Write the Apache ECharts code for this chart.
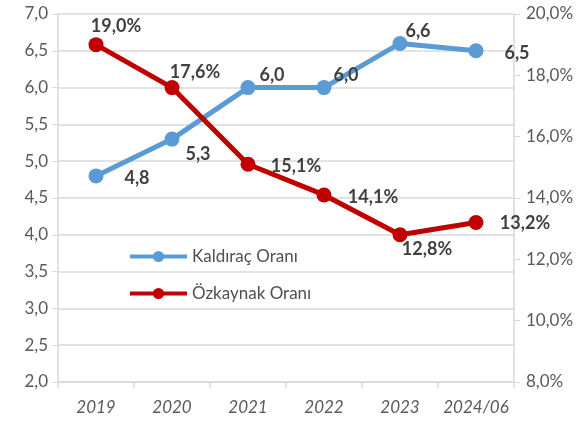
<!DOCTYPE html>
<html><head><meta charset="utf-8">
<script src="https://cdn.jsdelivr.net/npm/echarts@6/dist/echarts.min.js"></script>
<style>html,body{margin:0;padding:0;background:#fff}#c{width:588px;height:421px}</style>
</head><body><div id="c"></div>
<script>
const categories = ['2019','2020','2021','2022','2023','2024/06'];
const kaldirac = [4.8, 5.3, 6.0, 6.0, 6.6, 6.5];
const ozkaynak = [19.0, 17.6, 15.1, 14.1, 12.8, 13.2];
const seriesNames = ['Kaldıraç Oranı', 'Özkaynak Oranı'];

const FONT = 'Lato';
const fmt1 = v => v.toFixed(1).replace('.', ',');
const labStyle = {fontFamily: FONT, fontWeight: 'bold', fontSize: 18, color: '#404040', position: 'inside'};

// label offsets relative to the point centre
const kOff = [[41, 2], [26, 15], [24, -12], [22, -12], [18, -12], [41, 2]];
const oOff = [[20, -18], [23, -15], [48, 2], [49, 2], [27, 14], [49, 1]];

const chart = echarts.init(document.getElementById('c'));
chart.setOption({
  animation: false,
  grid: {left: 58, right: 74, top: 14, bottom: 39},
  legend: {
    orient: 'vertical', left: 123, top: 243, itemWidth: 57, itemHeight: 14, itemGap: 20,
    lineStyle: {width: 4},
    textStyle: {fontFamily: FONT, fontSize: 17, color: '#505050'},
    data: seriesNames
  },
  xAxis: {
    type: 'category', data: categories, boundaryGap: true,
    axisLine: {lineStyle: {color: '#d9d9d9', width: 1.5}},
    axisTick: {show: true, length: 6, interval: 0, lineStyle: {color: '#d9d9d9', width: 1.5}},
    axisLabel: {interval: 0, fontFamily: FONT, fontSize: 17, fontStyle: 'italic', color: '#595959', margin: 17}
  },
  yAxis: [{
    type: 'value', min: 2, max: 7, interval: 0.5,
    axisLine: {show: true, lineStyle: {color: '#d9d9d9', width: 1.5}},
    axisTick: {show: true, length: 6, lineStyle: {color: '#d9d9d9'}},
    splitLine: {lineStyle: {color: '#d9d9d9', width: 1.5}},
    axisLabel: {fontFamily: FONT, fontSize: 17, color: '#595959', margin: 10, formatter: fmt1}
  }, {
    type: 'value', min: 8, max: 20, interval: 2, position: 'right',
    axisLine: {show: true, lineStyle: {color: '#d9d9d9', width: 1.5}},
    axisTick: {show: true, length: 6, lineStyle: {color: '#d9d9d9'}},
    splitLine: {show: false},
    axisLabel: {fontFamily: FONT, fontSize: 17, color: '#595959', margin: 12, formatter: v => fmt1(v) + '%'}
  }],
  series: [{
    name: seriesNames[0], type: 'line', yAxisIndex: 0,
    symbol: 'circle', symbolSize: 15,
    lineStyle: {color: '#5b9bd5', width: 5}, itemStyle: {color: '#5b9bd5'},
    data: kaldirac.map((v, i) => ({value: v, label: Object.assign({show: true, offset: kOff[i], formatter: p => fmt1(p.value)}, labStyle)})),
    z: 2
  }, {
    name: seriesNames[1], type: 'line', yAxisIndex: 1,
    symbol: 'circle', symbolSize: 15,
    lineStyle: {color: '#c00000', width: 5}, itemStyle: {color: '#c00000'},
    data: ozkaynak.map((v, i) => ({value: v, label: Object.assign({show: true, offset: oOff[i], formatter: p => fmt1(p.value) + '%'}, labStyle)})),
    z: 3
  }]
});
</script></body></html>
